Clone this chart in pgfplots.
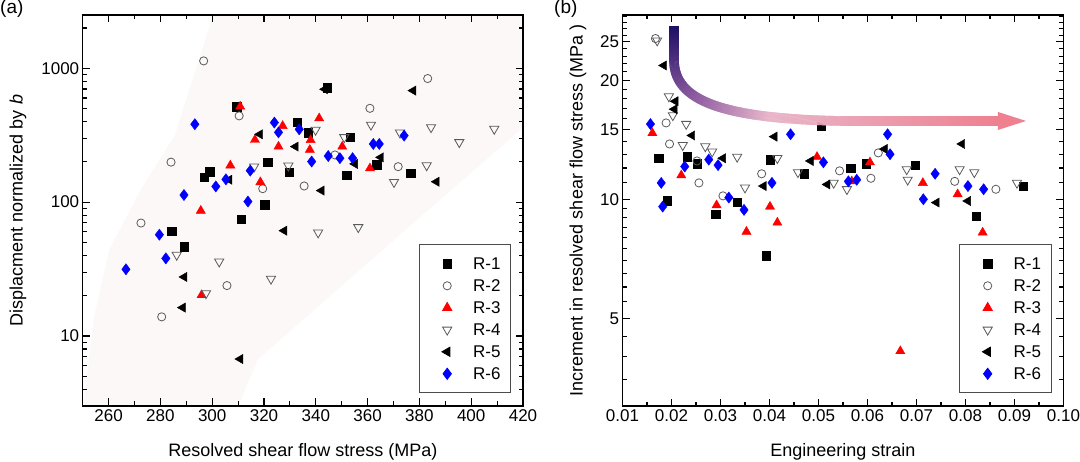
\documentclass[border=0pt]{standalone}
\usepackage{fontspec}
\setmainfont{Liberation Sans}
\usepackage{pgfplots}
\pgfplotsset{compat=1.18}
\usetikzlibrary{decorations.markings}
\definecolor{wedge}{RGB}{251,248,247}
\definecolor{arA}{RGB}{30,15,100}
\definecolor{arB}{RGB}{140,90,160}
\definecolor{arC}{RGB}{232,182,202}
\definecolor{arD}{RGB}{238,128,143}
\definecolor{lgray}{RGB}{90,90,90}
\newcommand\arrowseg{%
  \pgfmathsetmacro\arT{(\pgfkeysvalueof{/pgf/decoration/mark info/distance from start}/\pgfdecoratedpathlength)*100}%
  \ifdim\arT pt<20pt
    \pgfmathsetmacro\arP{\arT*5}\colorlet{arcur}{arB!\arP!arA}%
  \else\ifdim\arT pt<40pt
    \pgfmathsetmacro\arP{(\arT-20)*5}\colorlet{arcur}{arC!\arP!arB}%
  \else
    \pgfmathsetmacro\arP{min(100,(\arT-40)*100/60)}\colorlet{arcur}{arD!\arP!arC}%
  \fi\fi
  \fill[arcur] (-0.45pt,-4.8pt) rectangle (0.45pt,4.8pt);%
}
\pgfplotsset{
  common/.style={
    scale only axis,
    axis on top,
    axis line style={line width=1.3pt},
    tick style={black, line width=1.1pt},
    major tick length=7.5pt,
    minor tick length=4.5pt,
    tick align=inside,
    tick label style={font=\fontsize{17}{20}\selectfont},
    label style={font=\fontsize{18}{21}\selectfont},
    /pgf/number format/assume math mode=true,
    xlabel style={at={(axis description cs:0.5,0)}, anchor=base, yshift=-51pt},
    legend style={at={(1,0)}, anchor=south east, xshift=-12pt, yshift=12.7pt,
      draw=black!70, line width=0.8pt, inner xsep=6pt, inner ysep=10pt, row sep=3.8pt,
      font=\fontsize{17}{20}\selectfont,
      nodes={inner xsep=4pt, inner ysep=3pt, text height=12.2pt, text depth=0pt}},
    legend cell align=left,
    legend image code/.code={\pgfpathrectangle{\pgfpoint{0pt}{-6pt}}{\pgfpoint{44pt}{12pt}}\pgfusepath{use as bounding box}\draw[##1] plot coordinates {(22pt,0pt)};},
  },
  r1/.style={only marks, mark=square*, mark size=4.2pt, color=black},
  r2/.style={only marks, mark=o, mark size=4.1pt, color=lgray, mark options={line width=0.8pt}},
  r3/.style={only marks, mark=triangle*, mark size=5.3pt, color=red},
  r4/.style={only marks, mark=triangle, mark size=5.3pt, color=lgray, mark options={rotate=180, line width=0.8pt}},
  r5/.style={only marks, mark=triangle*, mark size=5.3pt, color=black, mark options={rotate=90}},
  r6/.style={only marks, mark=diamond*, mark size=5.6pt, color=blue},
}
\begin{document}
\begin{tikzpicture}
\useasboundingbox (0,0) rectangle (1080pt,462pt);
\begin{axis}[common, ymode=log,
  at={(82.7pt,56pt)}, anchor=south west,
  width=440.3pt, height=391pt,
  xmin=250, xmax=420, ymin=3, ymax=2500,
  xtick={260,280,300,320,340,360,380,400,420},
  xticklabels={260,280,300,320,340,360,380,400,420},
  minor x tick num=1,
  ytick={10,100,1000}, yticklabels={10,100,1000},
  minor ytick={3,4,5,6,7,8,9,20,30,40,50,60,70,80,90,200,300,400,500,600,700,800,900,2000},
  xlabel={Resolved shear flow stress (MPa)},
  ylabel={Displacment normalized by \textit{b}},
  ylabel style={at={([xshift=-60pt]axis description cs:0,0.5)}, anchor=base},
]
\addplot[fill=wedge, draw=none, forget plot] coordinates {(250.3,3) (251.3,4.45) (254.4,13.9) (260.2,43.9) (272,120) (285.6,317) (300.4,2500) (420,2500) (420,360) (379,73.6) (317.7,6.7) (310,3)} -- cycle;
\addplot[r1] coordinates {(309.5,518) (296.9,153) (299.0,169) (284.3,60.6) (289.2,46.4) (311.1,74.8) (320.2,95.7) (321.4,199) (329.8,168) (332.8,397) (337.1,330) (344.4,718) (353.2,307) (351.9,159) (363.5,190) (376.6,164)};
\addlegendentry{R-1}
\addplot[r2] coordinates {(296.7,1135) (310.4,441) (284.1,199) (272.5,69.8) (319.5,126) (305.7,23.8) (280.5,13.9) (383.2,838) (360.9,502) (371.8,184) (335.5,132) (347.4,225)};
\addlegendentry{R-2}
\addplot[r3] coordinates {(310.8,518) (316.5,292) (327.2,371) (325.6,260) (307.0,188) (318.6,141) (295.6,86.3) (295.9,20.2) (341.3,423) (338.0,291) (337.7,246) (350.2,260) (360.9,179)};
\addlegendentry{R-3}
\addplot[r4] coordinates {(316.2,184) (329.4,187) (286.3,40.3) (302.7,35.9) (297.6,20.8) (322.7,26.7) (339.9,346) (351.0,305) (361.3,378) (372.5,330) (384.5,362) (395.4,280) (408.9,352) (382.8,188) (370.2,141) (340.9,59.2) (356.4,64.9)};
\addlegendentry{R-4}
\addplot[r5] coordinates {(318.4,321) (332.2,260) (306.6,147) (327.8,61.2) (289.2,27.6) (288.6,16.3) (310.8,6.73) (343.5,697) (377.6,681) (355.1,193) (365.1,216) (342.2,122) (386.6,142)};
\addlegendentry{R-5}
\addplot[r6] coordinates {(266.7,31.5) (279.6,57.1) (282.1,38.0) (289.1,113) (293.3,382) (301.4,131) (305.3,148) (313.8,101) (314.7,172) (324.0,393) (325.6,332) (333.6,350) (338.4,201) (344.8,221) (349.3,213) (354.2,213) (362.2,272) (364.5,272) (374.1,314)};
\addlegendentry{R-6}
\end{axis}

\begin{axis}[common, ymode=log,
  at={(622.5pt,56pt)}, anchor=south west,
  width=441pt, height=391pt,
  xmin=0.01, xmax=0.10, ymin=3, ymax=29.25,
  xtick={0.01,0.02,0.03,0.04,0.05,0.06,0.07,0.08,0.09,0.10},
  xticklabels={0.01,0.02,0.03,0.04,0.05,0.06,0.07,0.08,0.09,0.10},
  minor x tick num=1,
  scaled x ticks=false,
  ytick={5,10,15,20,25}, yticklabels={5,10,15,20,25},
  minor ytick={3,3.5,4,4.5,5.5,6,6.5,7,7.5,8,8.5,9,9.5,11,12,13,14,16,17,18,19,21,22,23,24,26,27,28,29},
  xlabel={Engineering strain},
  ylabel={Increment in resolved shear flow stress (MPa )},
  ylabel style={at={([xshift=-40pt]axis description cs:0,0.5)}, anchor=base},
]
\addplot[r1] coordinates {(0.01741,12.7) (0.0232,12.8) (0.0252,12.3) (0.0191,9.92) (0.0290,9.16) (0.0334,9.83) (0.0401,12.6) (0.0393,7.20) (0.0471,11.6) (0.0506,15.3) (0.0566,12.0) (0.0597,12.3) (0.0697,12.2) (0.0822,9.07) (0.0918,10.8)};
\addlegendentry{R-1}
\addplot[r2] coordinates {(0.01673,25.5) (0.0189,15.6) (0.0196,13.8) (0.0252,12.5) (0.0256,11.0) (0.0305,10.2) (0.0384,11.6) (0.0543,11.8) (0.0607,11.3) (0.0622,13.1) (0.0778,11.1) (0.0862,10.6)};
\addlegendentry{R-2}
\addplot[r3] coordinates {(0.0161,14.7) (0.0220,11.5) (0.0292,9.66) (0.0353,8.28) (0.0401,9.58) (0.0416,8.73) (0.0497,12.8) (0.0568,11.1) (0.0605,12.4) (0.0713,11.0) (0.0784,10.3) (0.0835,8.24) (0.0667,4.13)};
\addlegendentry{R-3}
\addplot[r4] coordinates {(0.01707,25.2) (0.01946,18.2) (0.02027,16.3) (0.0230,15.5) (0.0223,13.7) (0.0269,13.6) (0.0283,13.2) (0.0334,12.8) (0.0350,10.7) (0.0416,12.7) (0.0458,11.7) (0.0531,11.0) (0.0558,10.6) (0.0680,11.9) (0.0682,11.2) (0.0788,11.9) (0.0818,11.7) (0.0905,11.0)};
\addlegendentry{R-4}
\addplot[r5] coordinates {(0.01844,21.8) (0.0208,17.7) (0.0206,16.9) (0.0242,14.5) (0.0305,12.7) (0.0410,14.4) (0.0388,10.8) (0.0484,12.5) (0.0518,10.9) (0.0635,13.4) (0.0741,9.81) (0.0793,13.8) (0.0805,9.9)};
\addlegendentry{R-5}
\addplot[r6] coordinates {(0.0157,15.5) (0.0179,11.0) (0.0182,9.58) (0.0227,12.1) (0.0276,12.6) (0.0295,12.2) (0.0317,10.1) (0.0348,9.4) (0.0405,11.0) (0.0443,14.6) (0.0510,12.4) (0.0561,11.1) (0.0578,11.2) (0.0641,14.6) (0.0646,13.0) (0.0738,11.6) (0.0714,10.0) (0.0805,10.8) (0.0837,10.6)};
\addlegendentry{R-6}
\coordinate (A0) at (axis cs:0.02051,27.3);
\coordinate (A1) at (axis cs:0.02051,22.5);
\coordinate (C1) at (axis cs:0.02051,17.83);
\coordinate (C2) at (axis cs:0.0299,16.01);
\coordinate (A2) at (axis cs:0.05439,15.78);
\coordinate (A3) at (axis cs:0.08663,15.78);
\end{axis}
\path[decoration={markings, mark=between positions 0 and 1 step 0.5pt with {\arrowseg}}, decorate] (A0) -- (A1) .. controls (C1) and (C2) .. (A2) -- (A3);
\fill[arD] ([yshift=9pt]A3) -- ([xshift=28pt]A3) -- ([yshift=-9pt]A3) -- cycle;
\node[anchor=north west, inner sep=0pt, font=\fontsize{19}{22}\selectfont] at (0pt,462pt) {(a)};
\node[anchor=north west, inner sep=0pt, font=\fontsize{19}{22}\selectfont] at (554pt,462pt) {(b)};
\end{tikzpicture}
\end{document}
